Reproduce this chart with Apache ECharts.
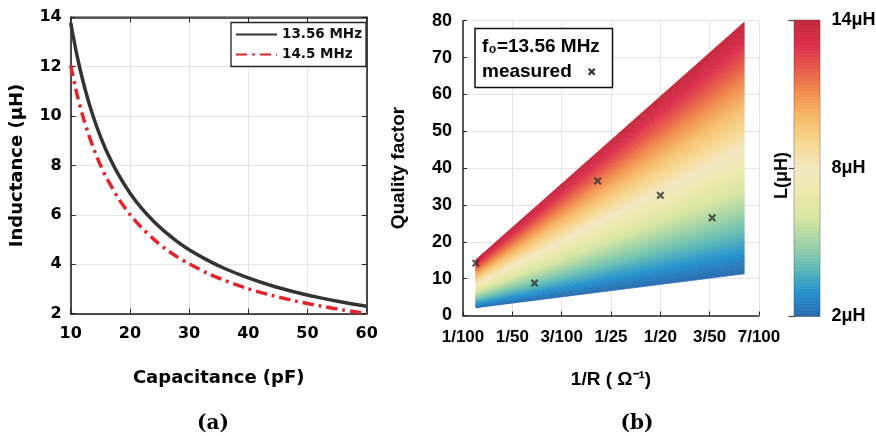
<!DOCTYPE html>
<html><head><meta charset="utf-8">
<script src="https://cdn.jsdelivr.net/npm/echarts@6/dist/echarts.min.js"></script>
<style>html,body{margin:0;padding:0;background:#fff}#c{width:876px;height:436px}</style>
</head><body><div id="c"></div>
<script>
// ---- Panel (a) data ----
const capacitance = [10,11,12,13,14,15,16,18,20,22,24,26,28,30,33,36,40,44,48,52,56,60];
const L_1356 = [13.78,12.53,11.48,10.60,9.84,9.19,8.61,7.66,6.89,6.26,5.74,5.30,4.92,4.59,4.18,3.83,3.45,3.13,2.87,2.65,2.46,2.30];
const L_145  = [12.05,10.95,10.04,9.27,8.61,8.03,7.53,6.69,6.02,5.48,5.02,4.63,4.30,4.02,3.65,3.35,3.01,2.74,2.51,2.32,2.15,2.01];
const seriesNames = ['13.56 MHz', '14.5 MHz'];

// ---- Panel (b) data ----
const xTickLabels = ['1/100','1/50','3/100','1/25','1/20','3/50','7/100'];
const measuredX = [0.0126, 0.0245, 0.0373, 0.0500, 0.0605];
const measuredQ = [14.2, 8.8, 36.5, 32.6, 26.5];
const regionX = [0.0126, 0.0670];      // 1/R extent of shaded region
const regionQmin = [2.1, 11.3];        // Q along L = 2 µH edge
const regionQmax = [15.1, 79.6];       // Q along L = 14 µH edge
const lRange = [2, 14];
const cbarTicks = [2, 8, 14];
const cmap = ['#2a6aae','#2592cf','#62bcb4','#a2d4a6','#d8e6a2','#ece9ac','#f3e8c2','#f7d890','#f7bd6c','#f2924e','#e85c48','#dc2e4d','#c3273b'];

// colour bands (rendering resolution of the continuous L field)
const bands = [];
const nb = 96;
for (let i = 0; i < nb; i++) {
  const lo = lRange[0] + (lRange[1]-lRange[0]) * i / nb;
  const hi = lRange[0] + (lRange[1]-lRange[0]) * (i+1) / nb;
  bands.push([(lo+hi)/2, lo, hi]);
}

const SANS_A = 'DejaVu Sans';
const SANS_B = 'Liberation Sans';
const axisCol = '#262626';

function fracQ(i, l) {
  const f = (l - lRange[0]) / (lRange[1] - lRange[0]);
  return regionQmin[i] + f * (regionQmax[i] - regionQmin[i]);
}

const chart = echarts.init(document.getElementById('c'), null, {renderer: 'canvas'});
const xSym = 'path://M0,2 L2,0 L5,3 L8,0 L10,2 L7,5 L10,8 L8,10 L5,7 L2,10 L0,8 L3,5 Z';

chart.setOption({
  animation: false,
  backgroundColor: '#fff',
  grid: [
    {left: 70.7, right: 509.3, top: 17.3, bottom: 122.3, show: true, borderColor: axisCol, borderWidth: 1.5, outerBoundsMode: 'none'},
    {left: 463, right: 117, top: 20.7, bottom: 120.5, outerBoundsMode: 'none'},
    {left: 794.5, width: 25, top: 20.5, height: 295.5, show: true, borderColor: '#555', borderWidth: 1.5, outerBoundsMode: 'none'}
  ],
  visualMap: {
    type: 'continuous', show: false, min: lRange[0], max: lRange[1], dimension: 0,
    seriesIndex: [2, 4], inRange: {color: cmap}
  },
  legend: {
    data: seriesNames, orient: 'vertical', left: 231, top: 22.5,
    padding: [4, 4, 4, 4], itemGap: 4, itemWidth: 41, itemHeight: 12,
    backgroundColor: '#fff', borderColor: '#222', borderWidth: 1.3,
    itemStyle: {opacity: 0},
    textStyle: {fontFamily: SANS_A, fontWeight: 'bold', fontSize: 13.5, color: '#111', lineHeight: 16}
  },
  xAxis: [
    {gridIndex: 0, type: 'value', min: 10, max: 60, interval: 10, position: 'bottom',
     name: 'Capacitance (pF)', nameLocation: 'middle', nameGap: 56,
     nameTextStyle: {fontFamily: SANS_A, fontWeight: 'bold', fontSize: 18, color: '#000'},
     axisLine: {lineStyle: {color: axisCol, width: 1.5}},
     axisTick: {inside: true, length: 5, lineStyle: {color: axisCol}},
     axisLabel: {margin: 12, fontFamily: SANS_A, fontWeight: 'bold', fontSize: 16, color: '#000'},
     splitLine: {show: true, lineStyle: {color: '#e6e6e6', width: 1}}},
    {gridIndex: 0, type: 'value', min: 10, max: 60, interval: 10, position: 'top',
     axisLine: {lineStyle: {color: axisCol, width: 1.5}},
     axisTick: {inside: true, length: 5, lineStyle: {color: axisCol}},
     axisLabel: {show: false}, splitLine: {show: false}},
    {gridIndex: 1, type: 'value', min: 0.01, max: 0.07, interval: 0.01,
     name: '1/R ( Ω⁻¹)', nameLocation: 'middle', nameGap: 55,
     nameTextStyle: {fontFamily: SANS_B, fontWeight: 'bold', fontSize: 19, color: '#000'},
     axisLine: {lineStyle: {color: axisCol, width: 1.5}},
     axisTick: {inside: true, length: 4, lineStyle: {color: axisCol}},
     axisLabel: {margin: 13, fontFamily: SANS_B, fontWeight: 'bold', fontSize: 17, color: '#000',
       formatter: v => xTickLabels[Math.round(v * 100) - 1] || ''},
     splitLine: {show: true, lineStyle: {color: '#e6e6e6', width: 1}}},
    {gridIndex: 2, type: 'value', min: 0, max: 1, show: false}
  ],
  yAxis: [
    {gridIndex: 0, type: 'value', min: 2, max: 14, interval: 2,
     name: 'Inductance (μH)', nameLocation: 'middle', nameGap: 44,
     nameTextStyle: {fontFamily: SANS_A, fontWeight: 'bold', fontSize: 18, color: '#000'},
     axisLine: {lineStyle: {color: axisCol, width: 1.5}},
     axisTick: {inside: true, length: 5, lineStyle: {color: axisCol}},
     axisLabel: {margin: 9, fontFamily: SANS_A, fontWeight: 'bold', fontSize: 16, color: '#000'},
     splitLine: {show: true, lineStyle: {color: '#e6e6e6', width: 1}}},
    {gridIndex: 0, type: 'value', min: 2, max: 14, interval: 2, position: 'right',
     axisLine: {lineStyle: {color: axisCol, width: 1.5}},
     axisTick: {inside: true, length: 5, lineStyle: {color: axisCol}},
     axisLabel: {show: false}, splitLine: {show: false}},
    {gridIndex: 1, type: 'value', min: 0, max: 80, interval: 10,
     name: 'Quality factor', nameLocation: 'middle', nameGap: 55,
     nameTextStyle: {fontFamily: SANS_B, fontWeight: 'bold', fontSize: 19, color: '#000'},
     axisLine: {lineStyle: {color: axisCol, width: 1.5}},
     axisTick: {inside: true, length: 4, lineStyle: {color: axisCol}},
     axisLabel: {margin: 11, fontFamily: SANS_B, fontWeight: 'bold', fontSize: 18, color: '#000'},
     splitLine: {show: true, lineStyle: {color: '#e6e6e6', width: 1}}},
    {gridIndex: 2, type: 'value', min: lRange[0], max: lRange[1], interval: 6, position: 'right',
     axisLine: {show: false},
     axisTick: {inside: true, length: 6, lineStyle: {color: '#444', width: 1.2}},
     axisLabel: {margin: 12, fontFamily: SANS_B, fontWeight: 'bold', fontSize: 18, color: '#000',
       formatter: v => cbarTicks.includes(v) ? v + 'μH' : ''},
     splitLine: {show: false}}
  ],
  series: [
    {name: seriesNames[0], type: 'line', xAxisIndex: 0, yAxisIndex: 0, smooth: 0.3, symbol: 'none',
     data: capacitance.map((c, i) => [c, L_1356[i]]),
     lineStyle: {color: '#333333', width: 3.5}, itemStyle: {color: '#333333'}, z: 5},
    {name: seriesNames[1], type: 'line', xAxisIndex: 0, yAxisIndex: 0, smooth: 0.3, symbol: 'none',
     data: capacitance.map((c, i) => [c, L_145[i]]),
     lineStyle: {color: '#e3242b', width: 3.5, type: [11, 5, 3, 5]}, itemStyle: {color: '#e3242b'}, z: 4},
    {type: 'custom', xAxisIndex: 2, yAxisIndex: 2, data: bands, silent: true,
     renderItem: (params, api) => {
       const lo = api.value(1), hi = api.value(2);
       const pts = [
         api.coord([regionX[0], fracQ(0, lo)]), api.coord([regionX[1], fracQ(1, lo)]),
         api.coord([regionX[1], fracQ(1, hi)]), api.coord([regionX[0], fracQ(0, hi)])
       ];
       const c = api.visual('color');
       return {type: 'polygon', shape: {points: pts}, style: {fill: c, stroke: c, lineWidth: 0.7}};
     }, z: 2},
    {type: 'scatter', xAxisIndex: 2, yAxisIndex: 2, symbol: xSym, symbolSize: 8,
     data: measuredX.map((x, i) => [x, measuredQ[i]]),
     itemStyle: {color: '#333'}, z: 6},
    {type: 'custom', xAxisIndex: 3, yAxisIndex: 3, data: bands, silent: true,
     renderItem: (params, api) => {
       const p0 = api.coord([0, api.value(1)]);
       const p1 = api.coord([1, api.value(2)]);
       const c = api.visual('color');
       return {type: 'rect', shape: {x: p0[0], y: p1[1], width: p1[0] - p0[0], height: p0[1] - p1[1]},
               style: {fill: c, stroke: c, lineWidth: 0.6}};
     }, z: 2}
  ],
  graphic: [
    {type: 'rect', shape: {x: 475, y: 28.5, width: 137.5, height: 59}, style: {fill: '#fff', stroke: '#111', lineWidth: 1.5}, z: 10},
    {type: 'text', x: 482, y: 47, z: 11, style: {text: 'f₀=13.56 MHz', font: 'bold 19px "Liberation Sans"', fill: '#000', textVerticalAlign: 'middle'}},
    {type: 'text', x: 482, y: 72, z: 11, style: {text: 'measured', font: 'bold 19px "Liberation Sans"', fill: '#000', textVerticalAlign: 'middle'}},
    {type: 'line', shape: {x1: 588.7, y1: 68.7, x2: 594.7, y2: 74.7}, style: {stroke: '#333', lineWidth: 2.2}, z: 11},
    {type: 'line', shape: {x1: 588.7, y1: 74.7, x2: 594.7, y2: 68.7}, style: {stroke: '#333', lineWidth: 2.2}, z: 11},
    {type: 'text', x: 782, y: 175.5, rotation: Math.PI / 2, z: 11,
     style: {text: 'L(μH)', font: 'bold 18px "Liberation Sans"', fill: '#000', textAlign: 'center', textVerticalAlign: 'middle'}},
    {type: 'text', x: 213, y: 424, z: 11,
     style: {text: '(a)', font: 'bold 20px "DejaVu Serif"', fill: '#000', textAlign: 'center', textVerticalAlign: 'middle'}},
    {type: 'text', x: 637, y: 424, z: 11,
     style: {text: '(b)', font: 'bold 20px "DejaVu Serif"', fill: '#000', textAlign: 'center', textVerticalAlign: 'middle'}}
  ]
});
</script></body></html>
